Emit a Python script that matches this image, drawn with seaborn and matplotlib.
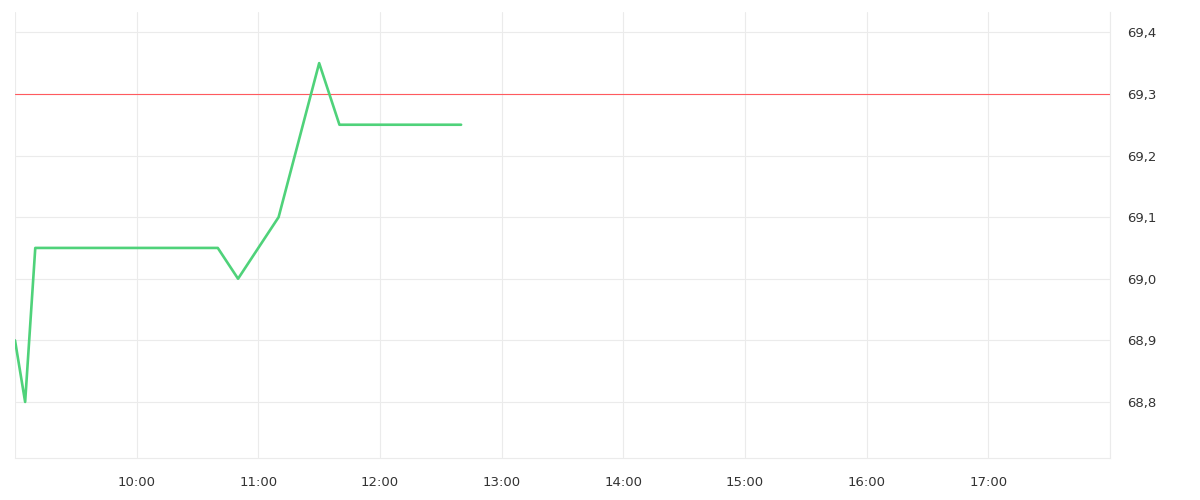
import pandas as pd
import seaborn as sns
import matplotlib
matplotlib.use("Agg")
import matplotlib.pyplot as plt
import matplotlib.dates as mdates
from matplotlib.ticker import FixedLocator, FuncFormatter

# price series
times = ["09:00", "09:05", "09:10", "10:40", "10:50", "11:10", "11:30", "11:40", "12:40"]
prices = [68.9, 68.8, 69.05, 69.05, 69.0, 69.1, 69.35, 69.25, 69.25]
ref_level = 69.3
y_ticks = [68.8, 68.9, 69.0, 69.1, 69.2, 69.3, 69.4]
x_hours = ["09:00", "10:00", "11:00", "12:00", "13:00", "14:00", "15:00", "16:00", "17:00", "18:00"]

day = "2024-01-15 "
df = pd.DataFrame({"time": pd.to_datetime([day + t for t in times]), "price": prices})
hour_ticks = pd.to_datetime([day + h for h in x_hours])

sns.set_style("white")
plt.rcParams["font.family"] = ["DejaVu Sans"]

fig = plt.figure(figsize=(12, 5), dpi=100)
ax = fig.add_axes([0.0125, 0.084, 0.9125, 0.892])

grid_c = "#ebebeb"
ax.grid(True, color=grid_c, linewidth=0.8)
ax.set_axisbelow(True)

ax.axhline(ref_level, color="#ff5a5f", linewidth=0.8, zorder=2)
sns.lineplot(data=df, x="time", y="price", color="#4fd27a", linewidth=1.9, ax=ax, zorder=3)

ax.set_xlim(hour_ticks[0], hour_ticks[-1])
ax.set_ylim(68.709, 69.433)

ax.xaxis.set_major_locator(FixedLocator(mdates.date2num(hour_ticks)))
labels = [h if 0 < i < len(x_hours) - 1 else "" for i, h in enumerate(x_hours)]
ax.set_xticklabels(labels)
ax.yaxis.set_major_locator(FixedLocator(y_ticks))
ax.yaxis.set_major_formatter(FuncFormatter(lambda v, p: f"{v:.1f}".replace(".", ",")))
ax.yaxis.tick_right()

ax.tick_params(axis="x", length=7, width=0.8, color=grid_c, labelsize=9.5,
               labelcolor="#333333", pad=6)
ax.tick_params(axis="y", length=0, labelsize=9.5, labelcolor="#333333", pad=12)

for side in ["top", "left"]:
    ax.spines[side].set_visible(False)
ax.spines["bottom"].set_color(grid_c)
ax.spines["bottom"].set_linewidth(0.8)
ax.spines["right"].set_color(grid_c)
ax.spines["right"].set_linewidth(0.8)

ax.set_xlabel("")
ax.set_ylabel("")

fig.savefig("out.png", dpi=100)
